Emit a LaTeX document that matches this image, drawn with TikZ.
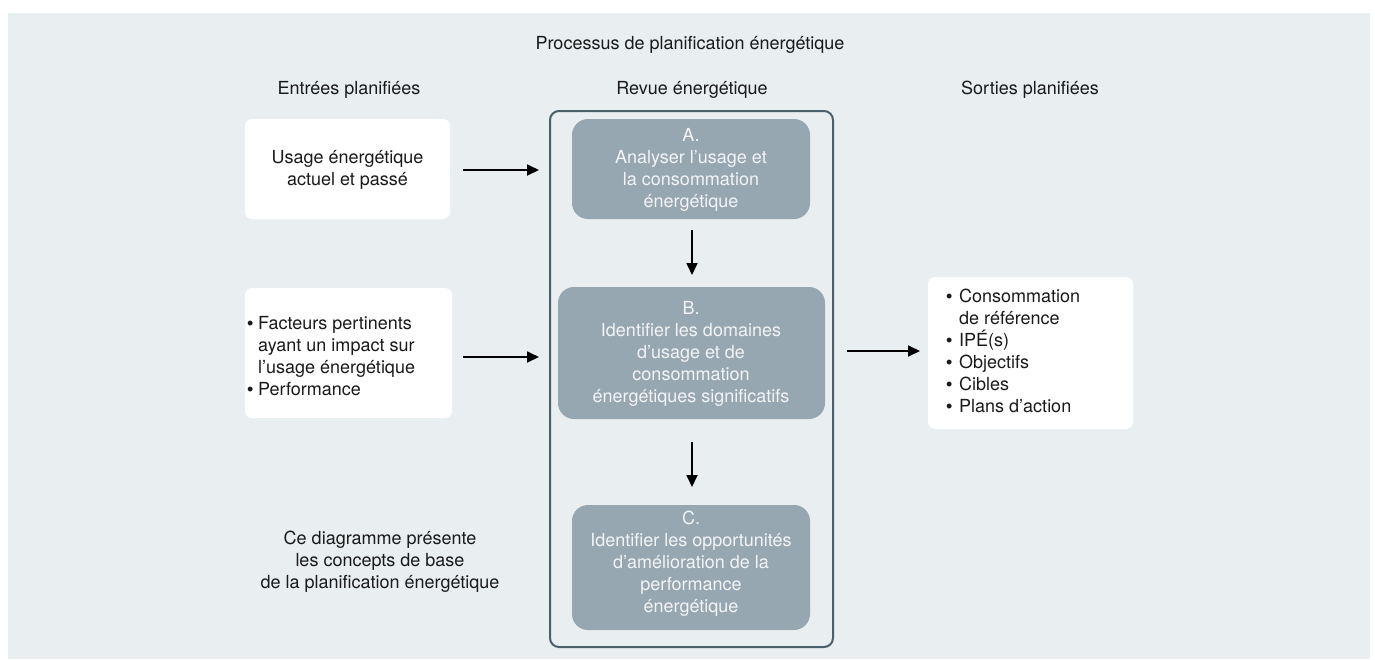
\documentclass[tikz,border=0pt]{standalone}
\usepackage{fontspec}
\setmainfont{TeX Gyre Heros}
\newfontfamily\bulfont{Liberation Sans}
\usetikzlibrary{arrows.meta}
\definecolor{bgc}{HTML}{E9EEF1}
\definecolor{boxc}{HTML}{97A7B2}
\definecolor{framec}{HTML}{4B5F6B}
\definecolor{boxtxt}{HTML}{F2F4F6}
\definecolor{txt}{HTML}{1A1A1A}
\newcommand\bigbul{{\bulfont •}}
\newcommand\bulA{\makebox[11pt][l]{\bigbul}}
\newcommand\bulB{\makebox[13pt][l]{\bigbul}}
\tikzset{
  lbl/.style={font=\fontsize{18}{22}\selectfont, text=txt, inner sep=0pt, align=center},
  whitebox/.style={fill=white, draw=none, rounded corners=7pt, inner sep=0pt},
  graybox/.style={fill=boxc, draw=none, rounded corners=16pt, inner sep=0pt},
  graytxt/.style={font=\fontsize{18}{22}\selectfont, text=boxtxt, inner sep=0pt, align=center},
  arr/.style={line width=1.8pt, black, -{Triangle[length=12pt,width=11pt]}},
}
\begin{document}
\begin{tikzpicture}[x=1pt,y=-1pt]
\useasboundingbox (0,0) rectangle (1375,659);
\fill[bgc] (8,13) rectangle (1370,659);
% titles
\node[lbl] (title) at (690,45) {Processus de planification énergétique};
\node[lbl] (hin) at (349,90) {Entrées planifiées};
\node[lbl] (hrev) at (692,90) {Revue énergétique};
\node[lbl] (hout) at (1030,90) {Sorties planifiées};
% frame
\draw[framec, line width=2pt, rounded corners=9pt] (550,111) rectangle (833,647);
\coordinate (frameW) at (550,300);
\coordinate (frameE) at (833,351);
% input boxes
\fill[whitebox] (245,119) rectangle (450,219);
\coordinate (in1E) at (450,170);
\node[lbl] (in1) at (347.5,170) {Usage énergétique\\actuel et passé};
\fill[whitebox] (245,288) rectangle (452,418);
\coordinate (in2E) at (452,357);
\node[lbl, align=left, anchor=west] (in2) at (247,356) {\bulA Facteurs pertinents\\\hspace*{11pt}ayant un impact sur\\\hspace*{11pt}l’usage énergétique\\\bulA Performance};
% output box
\fill[whitebox] (928,277) rectangle (1133,429);
\coordinate (outW) at (928,351);
\node[lbl, align=left, anchor=west] (out) at (946,351) {\bulB Consommation\\\hspace*{13pt}de référence\\\bulB IPÉ(s)\\\bulB Objectifs\\\bulB Cibles\\\bulB Plans d’action};
% gray boxes
\fill[graybox] (572,119) rectangle (810,219);
\node[graytxt] (A) at (691,170) {A.\\Analyser l’usage et\\la consommation\\énergétique};
\coordinate (Abot) at (692,219);
\fill[graybox] (558,287) rectangle (825,419);
\node[graytxt] (B) at (691,354) {B.\\Identifier les domaines\\d’usage et de\\consommation\\énergétiques significatifs};
\coordinate (Btop) at (692,287);
\coordinate (Bbot) at (692,419);
\fill[graybox] (572,505) rectangle (810,630);
\node[graytxt] (C) at (691,563.5) {C.\\Identifier les opportunités\\d’amélioration de la\\performance\\énergétique};
\coordinate (Ctop) at (692,505);
% bottom note
\node[lbl] (note) at (380,562) {Ce diagramme présente\\les concepts de base\\de la planification énergétique};
% arrows
\draw[arr, shorten <=13pt, shorten >=11pt] (in1E) -- (in1E -| frameW);
\draw[arr, shorten <=11pt, shorten >=11pt] (in2E) -- (in2E -| frameW);
\draw[arr, shorten <=11pt, shorten >=12pt] (Abot) -- (Btop);
\draw[arr, shorten <=23pt, shorten >=18pt] (Bbot) -- (Ctop);
\draw[arr, shorten <=14pt, shorten >=8pt] (frameE) -- (outW);
\end{tikzpicture}
\end{document}
